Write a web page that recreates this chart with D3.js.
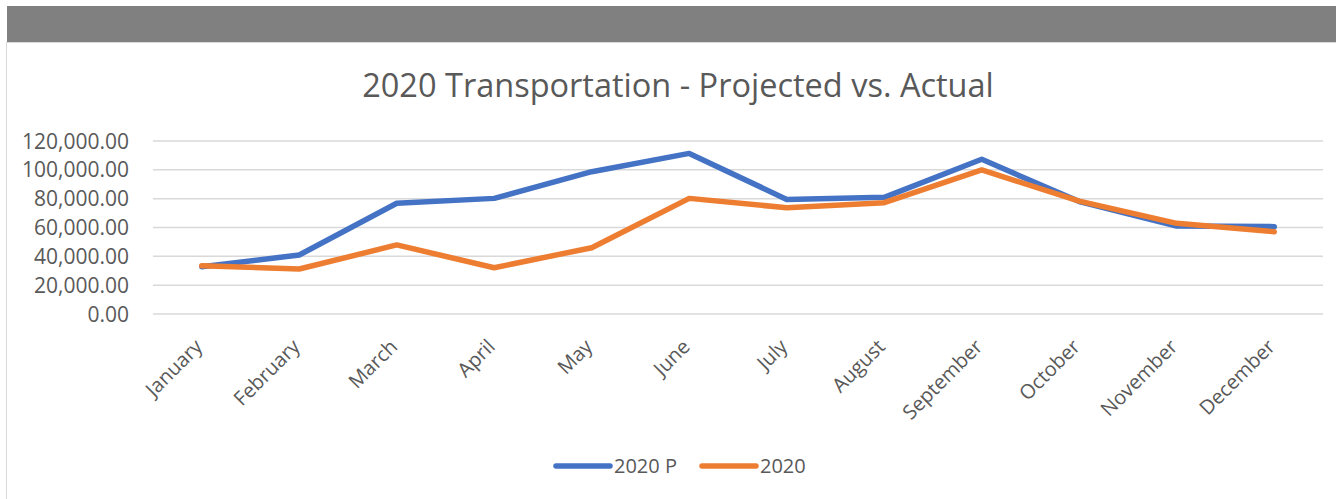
<!DOCTYPE html>
<html>
<head>
<meta charset="utf-8">
<script src="https://cdn.jsdelivr.net/npm/d3@7"></script>
<style>
  body { margin: 0; background: #fff; }
  svg { display: block; font-family: "Open Sans", "Liberation Sans", sans-serif; }
</style>
</head>
<body>
<svg></svg>
<script>
// chart data
var months = ["January", "February", "March", "April", "May", "June", "July",
  "August", "September", "October", "November", "December"];
var projected = [32800, 40900, 76800, 80200, 98700, 111400, 79500, 80900, 107300, 78000, 61000, 60600];
var actual = [33500, 31200, 47900, 32100, 46000, 80200, 73700, 77200, 99900, 78300, 62900, 57100];
var yTicks = [0, 20000, 40000, 60000, 80000, 100000, 120000];
var seriesNames = ["2020 P", "2020"];

var width = 1336;
var height = 499;
var colors = ["#4472C4", "#ED7D31"];

var svg = d3.select("svg")
    .attr("width", width)
    .attr("height", height);

// top grey bar and chart frame
svg.append("rect")
    .attr("x", 7).attr("y", 6)
    .attr("width", width - 7).attr("height", 36)
    .attr("fill", "#808080");

svg.append("rect")
    .attr("x", 6.5).attr("y", 42.5)
    .attr("width", width).attr("height", 470)
    .attr("fill", "#fff")
    .attr("stroke", "#d9d9d9");

var x = d3.scaleBand()
    .domain(months)
    .range([153, 1323]);

var y = d3.scaleLinear()
    .domain([0, 120000])
    .range([314, 141]);

// gridlines
svg.append("g")
    .selectAll("line")
    .data(yTicks)
    .join("line")
    .attr("x1", 153)
    .attr("x2", 1323)
    .attr("y1", d => y(d))
    .attr("y2", d => y(d))
    .attr("stroke", "#d9d9d9")
    .attr("stroke-width", 1.5);

// y axis labels
var fmt = d3.format(",.2f");
svg.append("g")
    .selectAll("text")
    .data(yTicks)
    .join("text")
    .attr("x", 129)
    .attr("y", d => y(d))
    .attr("dy", "0.36em")
    .attr("text-anchor", "end")
    .attr("fill", "#595959")
    .style("font-size", "21px")
    .text(d => fmt(d));

// x axis labels, rotated
svg.append("g")
    .selectAll("text")
    .data(months)
    .join("text")
    .attr("transform", d => "translate(" + (x(d) + x.bandwidth() / 2 - 3) + ",343) rotate(-45)")
    .attr("text-anchor", "end")
    .attr("dy", "0.35em")
    .attr("fill", "#595959")
    .style("font-size", "20px")
    .text(d => d);

// title
svg.append("text")
    .attr("x", 678)
    .attr("y", 97)
    .attr("text-anchor", "middle")
    .attr("fill", "#595959")
    .style("font-size", "32.5px")
    .text("2020 Transportation - Projected vs. Actual");

// lines
var line = d3.line()
    .x((d, i) => x(months[i]) + x.bandwidth() / 2)
    .y(d => y(d));

svg.append("g")
    .selectAll("path")
    .data([projected, actual])
    .join("path")
    .attr("d", d => line(d))
    .attr("fill", "none")
    .attr("stroke", (d, i) => colors[i])
    .attr("stroke-width", 5.5)
    .attr("stroke-linejoin", "round")
    .attr("stroke-linecap", "round");

// legend
var legendX = [556, 702];
var legend = svg.append("g")
    .selectAll("g")
    .data(seriesNames)
    .join("g")
    .attr("transform", (d, i) => "translate(" + legendX[i] + ",466)");

legend.append("line")
    .attr("x1", 0).attr("x2", 54)
    .attr("stroke", (d, i) => colors[i])
    .attr("stroke-width", 5.5)
    .attr("stroke-linecap", "round");

legend.append("text")
    .attr("x", 58)
    .attr("dy", "0.36em")
    .attr("fill", "#595959")
    .style("font-size", "20px")
    .text(d => d);
</script>
</body>
</html>
